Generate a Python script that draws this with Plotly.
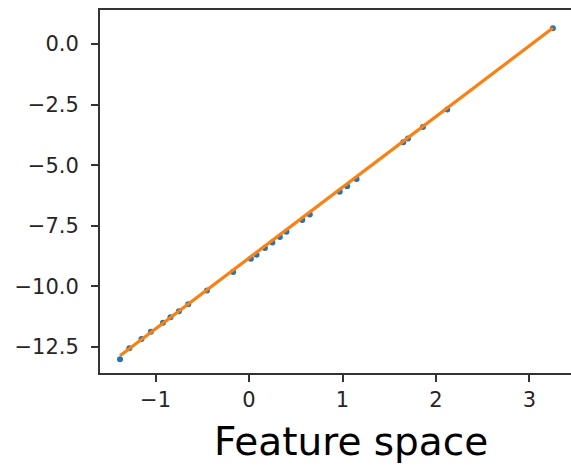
import numpy as np
import plotly.graph_objects as go

# Sampled feature values and targets
feature_x = [-1.38, -1.28, -1.15, -1.05, -0.92, -0.84, -0.75, -0.65, -0.45,
             -0.17, 0.02, 0.08, 0.17, 0.25, 0.33, 0.40, 0.57, 0.65,
             0.97, 1.05, 1.15, 1.65, 1.70, 1.86, 2.12, 3.25]
target_y = [-13.0, -12.55, -12.17, -11.87, -11.5, -11.27, -11.02, -10.73, -10.17,
            -9.4, -8.86, -8.69, -8.42, -8.19, -7.96, -7.75, -7.26, -7.03,
            -6.1, -5.87, -5.57, -4.05, -3.9, -3.43, -2.7, 0.65]

# Fitted model: y = slope * x + intercept
model_slope = 2.92
model_intercept = -8.83

x_ticks = [-1, 0, 1, 2, 3]
y_ticks = [0.0, -2.5, -5.0, -7.5, -10.0, -12.5]

fit_x = np.array([min(feature_x), max(feature_x)])
fit_y = model_slope * fit_x + model_intercept

fig = go.Figure()
fig.add_trace(go.Scatter(
    x=feature_x, y=target_y, mode="markers",
    marker=dict(color="#1f77b4", size=6, line=dict(width=0)),
    showlegend=False,
))
fig.add_trace(go.Scatter(
    x=fit_x, y=fit_y, mode="lines",
    line=dict(color="#ff7f0e", width=3.2),
    showlegend=False,
))

axis_font = dict(family="DejaVu Sans", size=21, color="#262626")

fig.update_layout(
    width=571, height=466,
    margin=dict(l=100, r=0, t=10, b=93),
    paper_bgcolor="white", plot_bgcolor="white",
    xaxis=dict(
        range=[-1.594, 3.444], tickvals=x_ticks,
        ticktext=[f"{v:g}".replace("-", "\u2212") for v in x_ticks],
        showgrid=False, zeroline=False,
        showline=True, linecolor="#333333", linewidth=2, mirror=True,
        ticks="outside", ticklen=7, tickwidth=1.5, tickcolor="#333333",
        tickfont=axis_font,
    ),
    yaxis=dict(
        range=[-13.57, 1.40], tickvals=y_ticks,
        ticktext=[f"{v:.1f}".replace("-", "\u2212") for v in y_ticks],
        showgrid=False, zeroline=False,
        showline=True, linecolor="#333333", linewidth=2, mirror=False,
        ticks="outside", ticklen=7, tickwidth=1.5, tickcolor="#333333",
        tickfont=axis_font, ticklabelstandoff=8,
    ),
    annotations=[dict(
        text="Feature space", xref="paper", yref="paper",
        x=0.533, y=-0.19, xanchor="center", yanchor="middle",
        showarrow=False,
        font=dict(family="DejaVu Sans", size=39, color="black"),
    )],
)

fig.write_html("out.html")
